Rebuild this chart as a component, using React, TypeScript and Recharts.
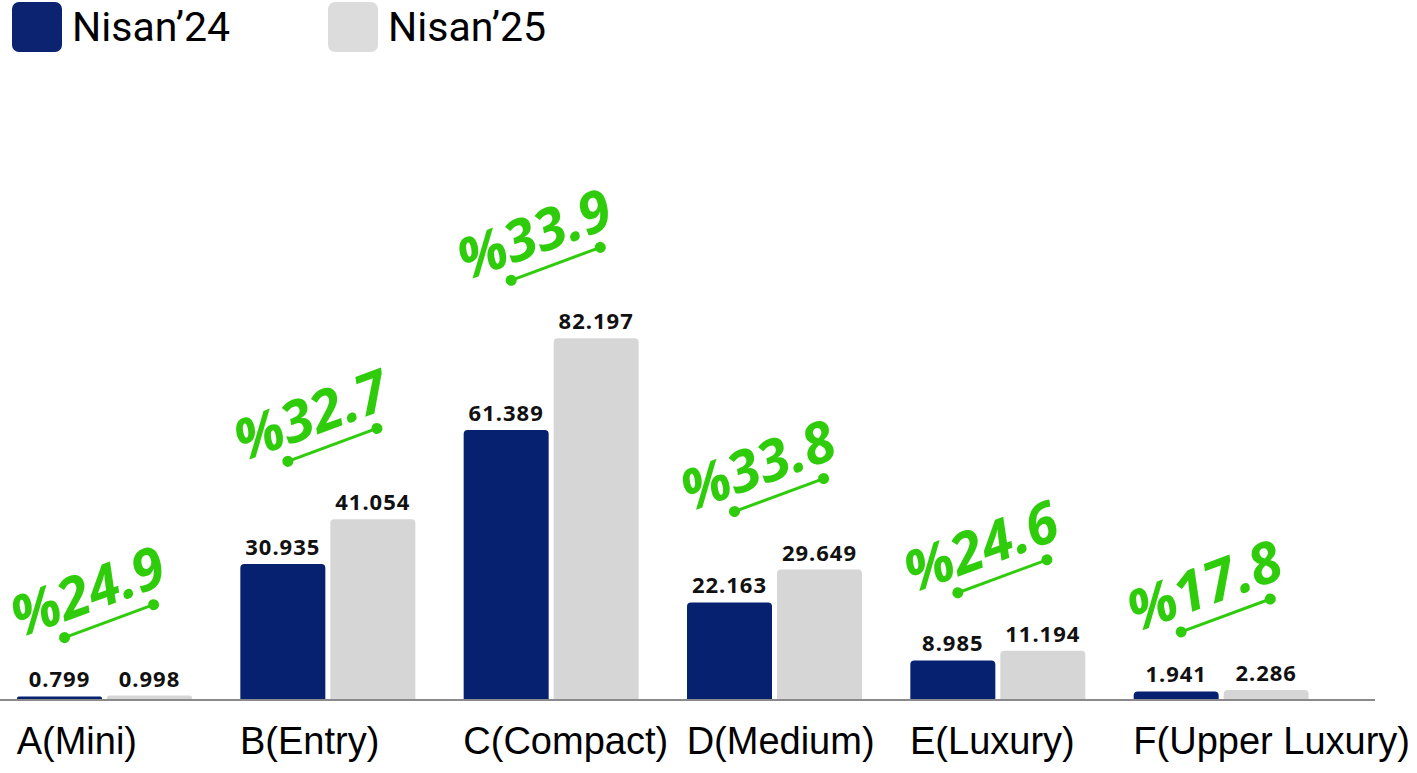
import React from 'react';
import { BarChart, Bar, XAxis, YAxis, LabelList } from 'recharts';

const categories = ['A(Mini)', 'B(Entry)', 'C(Compact)', 'D(Medium)', 'E(Luxury)', 'F(Upper Luxury)'];
const nisan24 = [0.799, 30.935, 61.389, 22.163, 8.985, 1.941];
const nisan25 = [0.998, 41.054, 82.197, 29.649, 11.194, 2.286];
const pctChange = ['24.9', '32.7', '33.9', '33.8', '24.6', '17.8'];
const seriesNames = ['Nisan’24', 'Nisan’25'];

const BLUE = '#062170';
const GREY = '#d6d6d6';
const GREEN = '#2fcc0b';

const data = categories.map((c, i) => ({
  name: c,
  y24: nisan24[i],
  y25: nisan25[i],
  pct: pctChange[i],
}));

const fmt = (v: any) => Number(v).toFixed(3);

const CategoryTick = (props: any) => {
  const { x, y, payload } = props;
  return (
    <text
      x={x - 88}
      y={y + 46}
      textAnchor="start"
      fontFamily="'Liberation Sans', Arial, sans-serif"
      fontSize={38}
      fill="#000"
    >
      {payload.value}
    </text>
  );
};

// green growth badge drawn above each pair of bars
const PctBadge = (props: any) => {
  const { x, y, value } = props;
  const cx = x - 2.5;
  const sx = cx - 40;
  const sy = y - 58;
  return (
    <g transform={`translate(${sx},${sy}) rotate(-20.3)`}>
      <line x1={0} y1={0} x2={95} y2={0} stroke={GREEN} strokeWidth={3} />
      <circle cx={0} cy={0} r={5.5} fill={GREEN} />
      <circle cx={95} cy={0} r={5.5} fill={GREEN} />
      <text
        x={-42}
        y={-15}
        fontFamily="'Noto Sans', sans-serif"
        fontWeight={700}
        fontStyle="italic"
        fontSize={57}
        fill={GREEN}
      >
        %{value}
      </text>
    </g>
  );
};

const valueLabelStyle = {
  fontFamily: "'Noto Sans', sans-serif",
  fontWeight: 700,
  fontSize: 22,
  letterSpacing: 1,
  fill: '#111',
};

export default function App() {
  return (
    <div style={{ position: 'absolute', left: 0, top: 0, width: 1417, height: 773, overflow: 'hidden', background: '#fff' }}>
      {/* legend */}
      <div style={{ position: 'absolute', left: 0, top: 0, fontFamily: "'Roboto', sans-serif", fontSize: 41, color: '#000' }}>
        {seriesNames.map((n, i) => (
          <div key={n} style={{ display: 'flex', alignItems: 'center', position: 'absolute', left: i === 0 ? 12 : 328, top: 2 }}>
            <div style={{ width: 50, height: 50, borderRadius: 7, background: i === 0 ? '#0b2370' : '#dcdcdc' }} />
            <span style={{ marginLeft: 10, whiteSpace: 'nowrap', lineHeight: '50px' }}>{n}</span>
          </div>
        ))}
      </div>
      <div style={{ position: 'absolute', left: -7, top: 0 }}>
        <BarChart
          width={1430}
          height={773}
          data={data}
          margin={{ top: 40, right: 48, bottom: 43, left: 0 }}
          barSize={85}
          barGap={5}
        >
          <XAxis
            dataKey="name"
            height={30}
            tick={<CategoryTick />}
            tickLine={false}
            axisLine={{ stroke: '#8a8a8a', strokeWidth: 2 }}
            padding={{ left: 0, right: 42 }}
            interval={0}
          />
          <YAxis hide domain={[0, 150]} />
          <Bar dataKey="y24" fill={BLUE} radius={[4, 4, 0, 0]} isAnimationActive={false}>
            <LabelList dataKey="y24" position="top" offset={9} formatter={fmt} style={valueLabelStyle} />
          </Bar>
          <Bar dataKey="y25" fill={GREY} radius={[4, 4, 0, 0]} isAnimationActive={false}>
            <LabelList dataKey="y25" position="top" offset={9} formatter={fmt} style={valueLabelStyle} />
            <LabelList dataKey="pct" content={<PctBadge />} />
          </Bar>
        </BarChart>
      </div>
    </div>
  );
}
